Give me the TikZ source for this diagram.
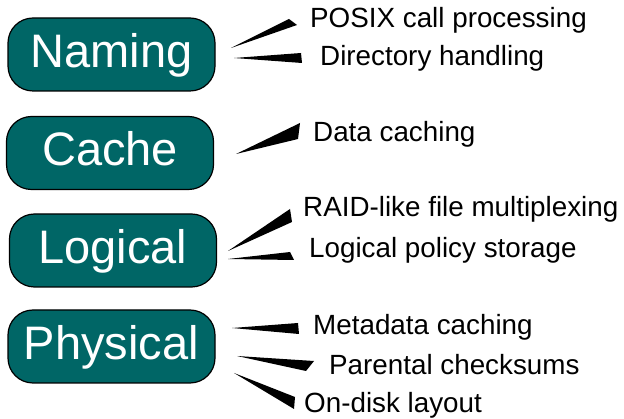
\documentclass[tikz,border=0pt]{standalone}
\usepackage{fontspec}
\setmainfont{Liberation Sans}
\definecolor{teal}{RGB}{0,102,102}
\begin{document}
\begin{tikzpicture}[x=1pt,y=-1pt,
  layer/.style={draw=black, line width=1.2pt, fill=teal, rounded corners=25pt,
    minimum width=207pt, minimum height=73pt, inner sep=0pt,
    text=white, font=\fontsize{47}{51}\selectfont, text height=35pt, text depth=9.5pt},
  lbl/.style={anchor=base west, inner sep=0pt, font=\fontsize{27.8}{30}\selectfont},
  wedge/.style={fill=black}]
\useasboundingbox (0,0) rectangle (624,419);
% layer boxes
\node[layer] (naming) at (111.5,54.5) {Naming};
\node[layer] (cache) at (110,153) {Cache};
\node[layer] (logical) at (113,250.5) {Logical};
\node[layer] (physical) at (111.5,346.5) {Physical};
% labels
\node[lbl] (posix) at (310,28) {POSIX call processing};
\node[lbl] (dir) at (320,66) {Directory handling};
\node[lbl] (data) at (313,142) {Data caching};
\node[lbl] (raid) at (303,217) {RAID-like file multiplexing};
\node[lbl] (lps) at (309,258) {Logical policy storage};
\node[lbl] (meta) at (313,335) {Metadata caching};
\node[lbl] (par) at (329,375) {Parental checksums};
\node[lbl] (disk) at (304,413) {On-disk layout};
% wedges
\fill[wedge] (231,48) -- (289,19) -- (297,25) -- cycle;
\fill[wedge] (234,58) -- (301,53) -- (302,63) -- cycle;
\fill[wedge] (236,154) -- (300,123) -- (298,139) -- cycle;
\fill[wedge] (228,251) -- (290,209) -- (292,222) -- cycle;
\fill[wedge] (228,259) -- (290,252) -- (294,260) -- cycle;
\fill[wedge] (232,328) -- (298,323) -- (299,334) -- cycle;
\fill[wedge] (237,356) -- (314,361) -- (306,371) -- cycle;
\fill[wedge] (234,373) -- (295,397) -- (294,409) -- cycle;
\end{tikzpicture}
\end{document}
